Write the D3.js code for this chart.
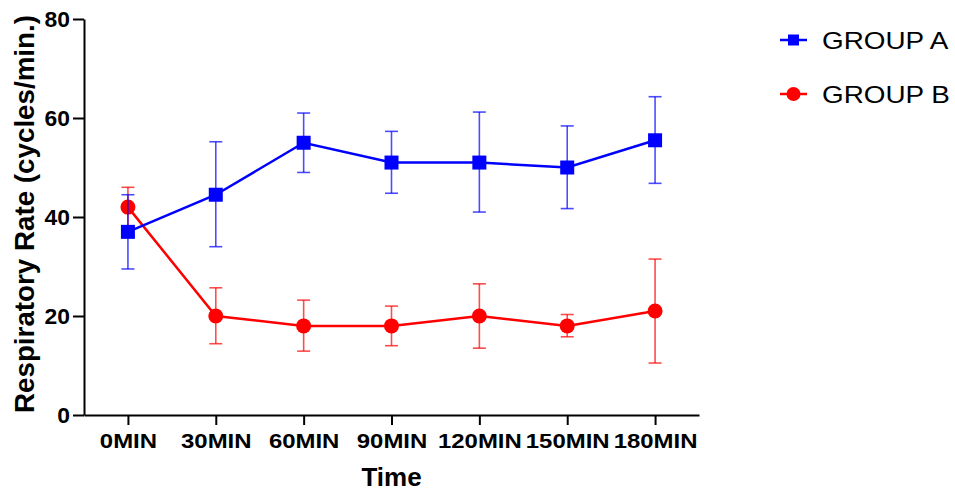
<!DOCTYPE html>
<html><head><meta charset="utf-8">
<script src="https://cdn.jsdelivr.net/npm/d3@7"></script>
<style>body{margin:0;background:#fff;} text{font-family:"Liberation Sans",Arial,sans-serif;}</style>
</head><body>
<svg id="c" width="955" height="491"></svg>
<script>
const categories = ["0MIN","30MIN","60MIN","90MIN","120MIN","150MIN","180MIN"];
const groupA = [37, 44.5, 55, 51, 51, 50, 55.5];
const groupAHigh = [44.5, 55.2, 61, 57.3, 61.2, 58.4, 64.3];
const groupALow = [29.5, 34, 49, 44.8, 41, 41.7, 46.8];
const groupB = [42, 20, 18, 18, 20, 18, 21];
const groupBHigh = [46, 25.7, 23.2, 22, 26.5, 20.3, 31.5];
const groupBLow = [38, 14.4, 12.9, 14, 13.5, 15.8, 10.5];
const yTicks = [0, 20, 40, 60, 80];
const seriesNames = ["GROUP A", "GROUP B"];
const colors = ["#0000ff", "#ff0000"];

const svg = d3.select("#c");
const x = d3.scalePoint().domain(categories).range([84, 699]).padding(0.5);
const y = d3.scaleLinear().domain([0, 80]).range([415, 19]);

function stretch(sel, k) {
  sel.each(function(){ const w = this.getComputedTextLength(); d3.select(this).attr("textLength", w*k).attr("lengthAdjust","spacingAndGlyphs"); });
}

const series = [
  {name: seriesNames[1], vals: groupB, hi: groupBHigh, lo: groupBLow, color: colors[1], shape: "circle"},
  {name: seriesNames[0], vals: groupA, hi: groupAHigh, lo: groupALow, color: colors[0], shape: "square"}
];

series.forEach(s => {
  const g = svg.append("g");
  const line = d3.line().x((d,i)=>x(categories[i])).y(d=>y(d));
  g.append("path").datum(s.vals).attr("d", line).attr("fill","none").attr("stroke", s.color).attr("stroke-width", 2.5);
  const markers = g.selectAll(".m").data(s.vals).enter();
  if (s.shape === "circle") {
    markers.append("circle").attr("cx",(d,i)=>x(categories[i])).attr("cy",d=>y(d)).attr("r",7.5).attr("fill",s.color);
  } else {
    markers.append("rect").attr("x",(d,i)=>x(categories[i])-7).attr("y",d=>y(d)-7).attr("width",14).attr("height",14).attr("fill",s.color);
  }
  const eb = g.selectAll(".eb").data(s.vals).enter().append("g").attr("stroke", s.color).attr("stroke-width",1.6).attr("stroke-opacity",0.7);
  eb.append("line").attr("x1",(d,i)=>x(categories[i])).attr("x2",(d,i)=>x(categories[i])).attr("y1",(d,i)=>y(s.hi[i])).attr("y2",(d,i)=>y(s.lo[i]));
  eb.append("line").attr("x1",(d,i)=>x(categories[i])-6.5).attr("x2",(d,i)=>x(categories[i])+6.5).attr("y1",(d,i)=>y(s.hi[i])).attr("y2",(d,i)=>y(s.hi[i]));
  eb.append("line").attr("x1",(d,i)=>x(categories[i])-6.5).attr("x2",(d,i)=>x(categories[i])+6.5).attr("y1",(d,i)=>y(s.lo[i])).attr("y2",(d,i)=>y(s.lo[i]));
});

// Axes
const yAxis = svg.append("g").attr("transform","translate(84,0)")
  .call(d3.axisLeft(y).tickValues(yTicks).tickSize(11).tickPadding(3).tickSizeOuter(0));
yAxis.select(".domain").attr("stroke","#000").attr("stroke-width",2);
yAxis.selectAll(".tick line").attr("stroke","#000").attr("stroke-width",2);
yAxis.selectAll(".tick text").attr("font-size",22).attr("font-weight","bold").attr("fill","#000")
  .attr("font-family","'Liberation Sans',Arial,sans-serif").attr("dy","0.36em");
stretch(yAxis.selectAll(".tick text"), 1.04);

const xAxis = svg.append("g").attr("transform","translate(0,415)")
  .call(d3.axisBottom(x).tickSize(10).tickPadding(8).tickSizeOuter(0));
xAxis.select(".domain").attr("stroke","#000").attr("stroke-width",2);
xAxis.selectAll(".tick line").attr("stroke","#000").attr("stroke-width",2);
xAxis.selectAll(".tick text").attr("font-size",21).attr("font-weight","bold").attr("fill","#000")
  .attr("font-family","'Liberation Sans',Arial,sans-serif").attr("dy","0.72em");
stretch(xAxis.selectAll(".tick text"), 1.14);

svg.append("text").attr("x",391.5).attr("y",486).attr("text-anchor","middle")
  .attr("font-size",26).attr("font-weight","bold").text("Time");
svg.append("text").attr("transform","translate(34,214) rotate(-90)").attr("text-anchor","middle")
  .attr("font-size",28).attr("font-weight","bold").text("Respiratory Rate (cycles/min.)")
  .call(s=>s.attr("textLength",398).attr("lengthAdjust","spacingAndGlyphs"));

// Legend
const lg = [{name: seriesNames[0], color: colors[0], shape:"square", yy: 40},{name: seriesNames[1], color: colors[1], shape:"circle", yy: 94}];
lg.forEach(l => {
  svg.append("line").attr("x1",780).attr("x2",807).attr("y1",l.yy).attr("y2",l.yy).attr("stroke",l.color).attr("stroke-width",2.5);
  if (l.shape==="square") svg.append("rect").attr("x",788).attr("y",l.yy-5.5).attr("width",11).attr("height",11).attr("fill",l.color);
  else svg.append("circle").attr("cx",793.5).attr("cy",l.yy).attr("r",7).attr("fill",l.color);
  svg.append("text").attr("x",822).attr("y",l.yy+8.5).attr("font-size",24).attr("fill","#000").text(l.name)
    .call(s=>stretch(s,1.16));
});
</script>
</body></html>
